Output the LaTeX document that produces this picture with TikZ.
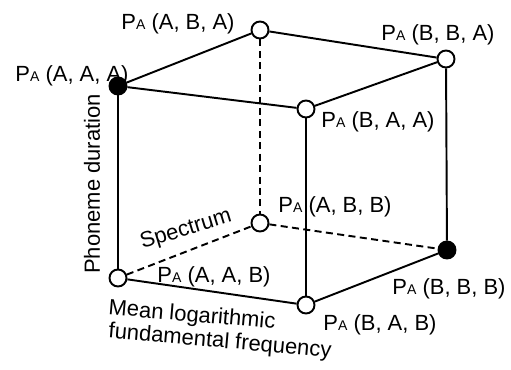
\documentclass[tikz,border=0pt]{standalone}
\usepackage{fontspec}
\setmainfont{Liberation Sans}
\usetikzlibrary{positioning}
\newcommand{\pa}[1]{P{\fontsize{8}{8}\selectfont A} (#1)}

\begin{document}
\begin{tikzpicture}[x=0.02cm,y=-0.02cm,
  vtx/.style={circle,draw,fill=white,line width=1.1pt,inner sep=0pt,minimum size=0.34cm},
  fullvtx/.style={vtx,fill=black},
  lbl/.style={font=\fontsize{12.5}{15}\selectfont,inner sep=0pt},
  edge/.style={line width=1.1pt},
  hidden/.style={edge,dash pattern=on 4pt off 2.5pt}]
  \useasboundingbox (0,0) rectangle (511,369);
  % corners of the cube
  \node[fullvtx] (aaa) at (118,86) {};
  \node[vtx] (aba) at (260,30) {};
  \node[vtx] (bba) at (446,59) {};
  \node[vtx] (baa) at (306,109) {};
  \node[vtx] (aab) at (118,278) {};
  \node[vtx] (abb) at (260,223) {};
  \node[fullvtx] (bbb) at (447,250) {};
  \node[vtx] (bab) at (306,305) {};
  % edges
  \foreach \a/\b in {aaa/aba,aaa/baa,aba/bba,baa/bba,aaa/aab,baa/bab,bba/bbb,aab/bab,bab/bbb}
    \draw[edge] (\a) -- (\b);
  \foreach \a/\b in {aba/abb,aab/abb,abb/bbb}
    \draw[hidden] (\a) -- (\b);
  % labels
  \node[lbl] (laaa) at (72,76) {\pa{A, A, A}};
  \node[lbl] (laba) at (178,24) {\pa{A, B, A}};
  \node[lbl] (lbba) at (438,35) {\pa{B, B, A}};
  \node[lbl] (lbaa) at (378,122) {\pa{B, A, A}};
  \node[lbl] (labb) at (335,207) {\pa{A, B, B}};
  \node[lbl] (laab) at (214,277) {\pa{A, A, B}};
  \node[lbl] (lbbb) at (449,289) {\pa{B, B, B}};
  \node[lbl] (lbab) at (380,325) {\pa{B, A, B}};
  % axes
  \node[lbl,rotate=90] (dur) at (92,184) {Phoneme duration};
  \node[lbl,rotate=17] (spec) at (186,230) {Spectrum};
  \node[lbl,rotate=-5] (freqa) at (192,316) {Mean logarithmic};
  \node[lbl,rotate=-5] (freqb) at (220,342) {fundamental frequency};
\end{tikzpicture}
\end{document}
